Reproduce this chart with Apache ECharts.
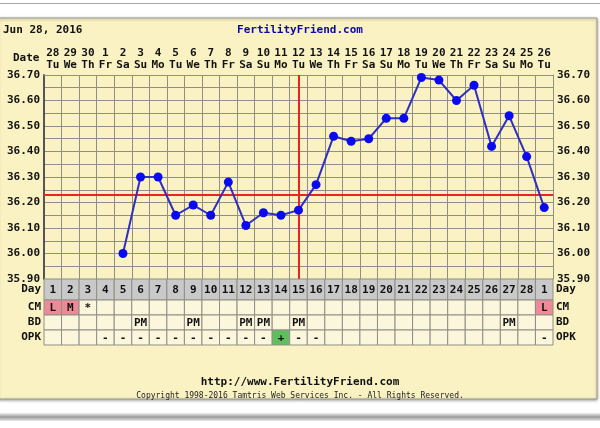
<!DOCTYPE html>
<html><head><meta charset="utf-8">
<script src="https://cdn.jsdelivr.net/npm/echarts@6/dist/echarts.min.js"></script>
<style>html,body{margin:0;padding:0;background:#fff}#c{width:600px;height:428px}</style>
</head><body><div id="c"></div>
<script>
var dates = ['28','29','30','1','2','3','4','5','6','7','8','9','10','11','12','13','14','15','16','17','18','19','20','21','22','23','24','25','26'];
var weekdays = ['Tu','We','Th','Fr','Sa','Su','Mo','Tu','We','Th','Fr','Sa','Su','Mo','Tu','We','Th','Fr','Sa','Su','Mo','Tu','We','Th','Fr','Sa','Su','Mo','Tu'];
var cycleDays = ['1','2','3','4','5','6','7','8','9','10','11','12','13','14','15','16','17','18','19','20','21','22','23','24','25','26','27','28','1'];
var temps = [null,null,null,null,36.00,36.30,36.30,36.15,36.19,36.15,36.28,36.11,36.16,36.15,36.17,36.27,36.46,36.44,36.45,36.53,36.53,36.69,36.68,36.60,36.66,36.42,36.54,36.38,36.18];
var coverline = 36.23;
var ovulationIndex = 14;
var cmMarks  = ['L','M','*','','','','','','','','','','','','','','','','','','','','','','','','','','L'];
var bdMarks  = ['','','','','','PM','','','PM','','','PM','PM','','PM','','','','','','','','','','','','PM','',''];
var opkMarks = ['','','','-','-','-','-','-','-','-','-','-','-','+','-','-','','','','','','','','','','','','','-'];
var yTicks = [35.9, 36.7, 0.1];

var FONT = 'DejaVu Sans Mono';
var bg = '#faf2c2';
var cellBg = '#fcf6dc';
var grid = '#8f8f86';

var dayData = cycleDays.map(function(d,i){ return [i,0,d,'#c9c9c9']; });
var rowData = [];
function cellColor(t,row){
  if(row===0 && (t==='L'||t==='M')) return '#ee8a98';
  if(row===2 && t==='+') return '#5fbf5f';
  return cellBg;
}
[cmMarks,bdMarks,opkMarks].forEach(function(arr,r){
  arr.forEach(function(t,i){ rowData.push([i,r,t,cellColor(t,r)]); });
});

function cellRender(params, api){
  var c = api.coord([api.value(0), api.value(1)]);
  var s = api.size([1,1]);
  var txt = api.value(2);
  return {type:'group', children:[
    {type:'rect', shape:{x:c[0]-s[0]/2, y:c[1]-s[1]/2, width:s[0], height:s[1]},
     style:{fill:api.value(3), stroke:grid, lineWidth:1}},
    {type:'text', style:{text:txt, x:c[0], y:c[1]+1, align:'center', verticalAlign:'middle',
      font:'bold 11px "'+FONT+'"', fill:'#111'}}
  ]};
}

var chart = echarts.init(document.getElementById('c'), null, {renderer:'canvas'});
var labelStyle = {fontFamily:FONT, fontWeight:'bold', fontSize:11, color:'#111'};
chart.setOption({
  backgroundColor:'#ffffff',
  animation:false,
  graphic:[
    {type:'rect', z:-10, shape:{x:-2, y:3, width:604, height:1}, style:{fill:'#a8a8a8'}},
    {type:'rect', z:-10, shape:{x:-2, y:18, width:599, height:381},
     style:{fill:bg, stroke:'#9a9a90', lineWidth:1, shadowBlur:3, shadowColor:'rgba(0,0,0,0.35)', shadowOffsetY:1}},
    {type:'rect', z:-10, shape:{x:-2, y:413, width:604, height:8},
     style:{fill:new echarts.graphic.LinearGradient(0,0,0,1,[{offset:0,color:'#f0f0f0'},{offset:0.5,color:'#9a9a9a'},{offset:1,color:'#e8e8e8'}])}},
    {type:'text', left:3, top:25, style:{text:'Jun 28, 2016', font:'bold 11px "'+FONT+'"', fill:'#111'}},
    {type:'text', left:'center', top:25, style:{text:'FertilityFriend.com', font:'bold 11px "'+FONT+'"', fill:'#0a0aa0'}},
    {type:'text', left:13, top:53, style:{text:'Date', font:'bold 11px "'+FONT+'"', fill:'#111'}},
    {type:'text', left:'center', top:377, style:{text:'http://www.FertilityFriend.com', font:'bold 11px "'+FONT+'"', fill:'#111'}},
    {type:'text', left:'center', top:392, style:{text:'Copyright 1998-2016 Tamtris Web Services Inc. - All Rights Reserved.', font:'8px "'+FONT+'"', fill:'#222'}}
  ],
  grid:[
    {left:44, top:75, width:509, height:204, show:true, backgroundColor:bg, borderWidth:0},
    {left:44, top:279, width:509, height:21, show:false},
    {left:44, top:300, width:509, height:45, show:false}
  ],
  xAxis:[
    {type:'category', gridIndex:0, data:dates, position:'top', boundaryGap:true,
     axisLine:{show:true, lineStyle:{color:grid}}, axisTick:{show:false},
     splitLine:{show:true, lineStyle:{color:grid, width:1}},
     axisLabel:{interval:0, margin:4, formatter:function(v,i){ return v+'\n'+weekdays[i]; },
       fontFamily:FONT, fontWeight:'bold', fontSize:11, color:'#111', lineHeight:12}},
    {type:'category', gridIndex:1, data:cycleDays, show:false},
    {type:'category', gridIndex:2, data:cycleDays, show:false}
  ],
  yAxis:[
    {type:'value', gridIndex:0, min:yTicks[0], max:yTicks[1], interval:yTicks[2], position:'left',
     axisLine:{show:true, lineStyle:{color:'#555', width:2}}, axisTick:{show:false},
     splitLine:{show:true, lineStyle:{color:grid}},
     minorTick:{show:false, splitNumber:2}, minorSplitLine:{show:true, lineStyle:{color:grid}},
     axisLabel:Object.assign({margin:4, formatter:function(v){return v.toFixed(2);}}, labelStyle)},
    {type:'value', gridIndex:0, min:yTicks[0], max:yTicks[1], interval:yTicks[2], position:'right',
     axisLine:{show:true, lineStyle:{color:grid}}, axisTick:{show:false}, splitLine:{show:false},
     axisLabel:Object.assign({margin:4, formatter:function(v){return v.toFixed(2);}}, labelStyle)},
    {type:'category', gridIndex:1, data:['Day'], position:'left', axisLine:{show:false}, axisTick:{show:false},
     axisLabel:Object.assign({margin:3}, labelStyle)},
    {type:'category', gridIndex:1, data:['Day'], position:'right', axisLine:{show:false}, axisTick:{show:false},
     axisLabel:Object.assign({margin:3}, labelStyle)},
    {type:'category', gridIndex:2, data:['CM','BD','OPK'], inverse:true, position:'left', axisLine:{show:false}, axisTick:{show:false},
     axisLabel:Object.assign({margin:3}, labelStyle)},
    {type:'category', gridIndex:2, data:['CM','BD','OPK'], inverse:true, position:'right', axisLine:{show:false}, axisTick:{show:false},
     axisLabel:Object.assign({margin:3}, labelStyle)}
  ],
  series:[
    {type:'line', xAxisIndex:0, yAxisIndex:0, data:temps, connectNulls:false,
     lineStyle:{color:'#2f2fc0', width:2}, itemStyle:{color:'#0a0af0'},
     symbol:'circle', symbolSize:9, showAllSymbol:true, z:5,
     markLine:{silent:true, symbol:'none', label:{show:false},
       lineStyle:{color:'#e82424', width:2, type:'solid'},
       data:[{yAxis:coverline},{xAxis:ovulationIndex}]}},
    {type:'custom', xAxisIndex:1, yAxisIndex:2, data:dayData, renderItem:cellRender},
    {type:'custom', xAxisIndex:2, yAxisIndex:4, data:rowData, renderItem:cellRender}
  ]
});
</script></body></html>
